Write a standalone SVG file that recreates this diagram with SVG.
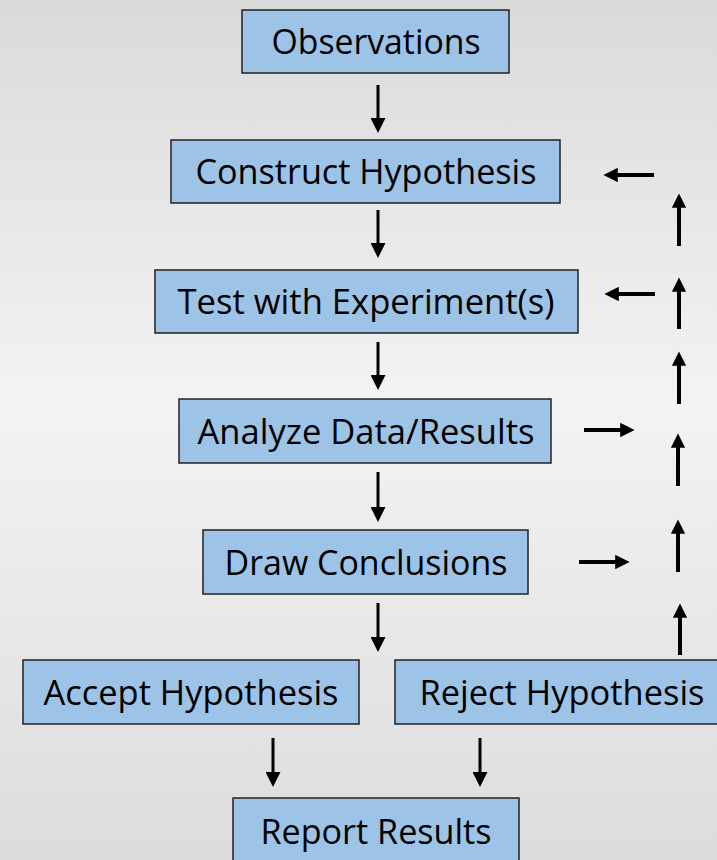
<svg xmlns="http://www.w3.org/2000/svg" width="717" height="860" viewBox="0 0 717 860">
<defs>
<linearGradient id="bg" x1="0" y1="0" x2="0" y2="1">
<stop offset="0" stop-color="#dadada"/>
<stop offset="0.47" stop-color="#f3f3f3"/>
<stop offset="1" stop-color="#dcdcdc"/>
</linearGradient>
<marker id="ah" markerWidth="5" markerHeight="5" refX="1" refY="2.5" orient="auto" markerUnits="strokeWidth" viewBox="0 0 5 5">
<path d="M0,0 L5,2.5 L0,5 z" fill="#000"/>
</marker>
<marker id="ah2" markerWidth="3.6" markerHeight="3.6" refX="0.7" refY="1.8" orient="auto" markerUnits="strokeWidth" viewBox="0 0 3.6 3.6">
<path d="M0,0 L3.6,1.8 L0,3.6 z" fill="#000"/>
</marker>
</defs>
<style>
.box{fill:#9dc3e6;stroke:#222;stroke-width:1.5}
.t{font-family:"Open Sans","Noto Sans","Liberation Sans",sans-serif;font-size:34px;fill:#000;text-anchor:middle}
.d{stroke:#000;stroke-width:3;fill:none;marker-end:url(#ah)}
.s{stroke:#000;stroke-width:4;fill:none;marker-end:url(#ah2)}
</style>
<rect x="0" y="0" width="717" height="860" fill="url(#bg)"/>
<g id="observations"><rect class="box" x="242" y="10" width="267" height="63"/><text class="t" x="376" y="54" textLength="209" lengthAdjust="spacingAndGlyphs">Observations</text></g>
<g id="construct"><rect class="box" x="171" y="140" width="389" height="63"/><text class="t" x="366" y="184" textLength="341" lengthAdjust="spacingAndGlyphs">Construct Hypothesis</text></g>
<g id="test"><rect class="box" x="155" y="270" width="423" height="63"/><text class="t" x="366" y="314" textLength="377" lengthAdjust="spacingAndGlyphs">Test with Experiment(s)</text></g>
<g id="analyze"><rect class="box" x="179" y="399" width="372" height="64"/><text class="t" x="366" y="444" textLength="337" lengthAdjust="spacingAndGlyphs">Analyze Data/Results</text></g>
<g id="draw"><rect class="box" x="203" y="530" width="325" height="64"/><text class="t" x="366" y="575" textLength="283" lengthAdjust="spacingAndGlyphs">Draw Conclusions</text></g>
<g id="accept"><rect class="box" x="23" y="660" width="336" height="64"/><text class="t" x="191" y="705" textLength="295" lengthAdjust="spacingAndGlyphs">Accept Hypothesis</text></g>
<g id="reject"><rect class="box" x="395" y="660" width="325" height="64"/><text class="t" x="562" y="705" textLength="285" lengthAdjust="spacingAndGlyphs">Reject Hypothesis</text></g>
<g id="report"><rect class="box" x="233" y="798" width="286" height="66"/><text class="t" x="376" y="844" textLength="231" lengthAdjust="spacingAndGlyphs">Report Results</text></g>
<g id="connectors">
<line class="d" x1="378" y1="85" x2="378" y2="121"/>
<line class="d" x1="378" y1="210" x2="378" y2="246"/>
<line class="d" x1="378" y1="342" x2="378" y2="378"/>
<line class="d" x1="378" y1="472" x2="378" y2="510"/>
<line class="d" x1="378" y1="603" x2="378" y2="640"/>
<line class="d" x1="273" y1="738" x2="273" y2="775"/>
<line class="d" x1="480" y1="738" x2="480" y2="775"/>
<line class="s" x1="654" y1="175" x2="615" y2="175"/>
<line class="s" x1="655" y1="294" x2="616" y2="294"/>
<line class="s" x1="584" y1="430" x2="623" y2="430"/>
<line class="s" x1="579" y1="562" x2="618" y2="562"/>
<line class="s" x1="679" y1="246" x2="679" y2="205"/>
<line class="s" x1="679" y1="329" x2="679" y2="289"/>
<line class="s" x1="679" y1="404" x2="679" y2="363"/>
<line class="s" x1="678" y1="486" x2="678" y2="445"/>
<line class="s" x1="678" y1="572" x2="678" y2="531"/>
<line class="s" x1="680" y1="655" x2="680" y2="615"/>
</g>
</svg>
